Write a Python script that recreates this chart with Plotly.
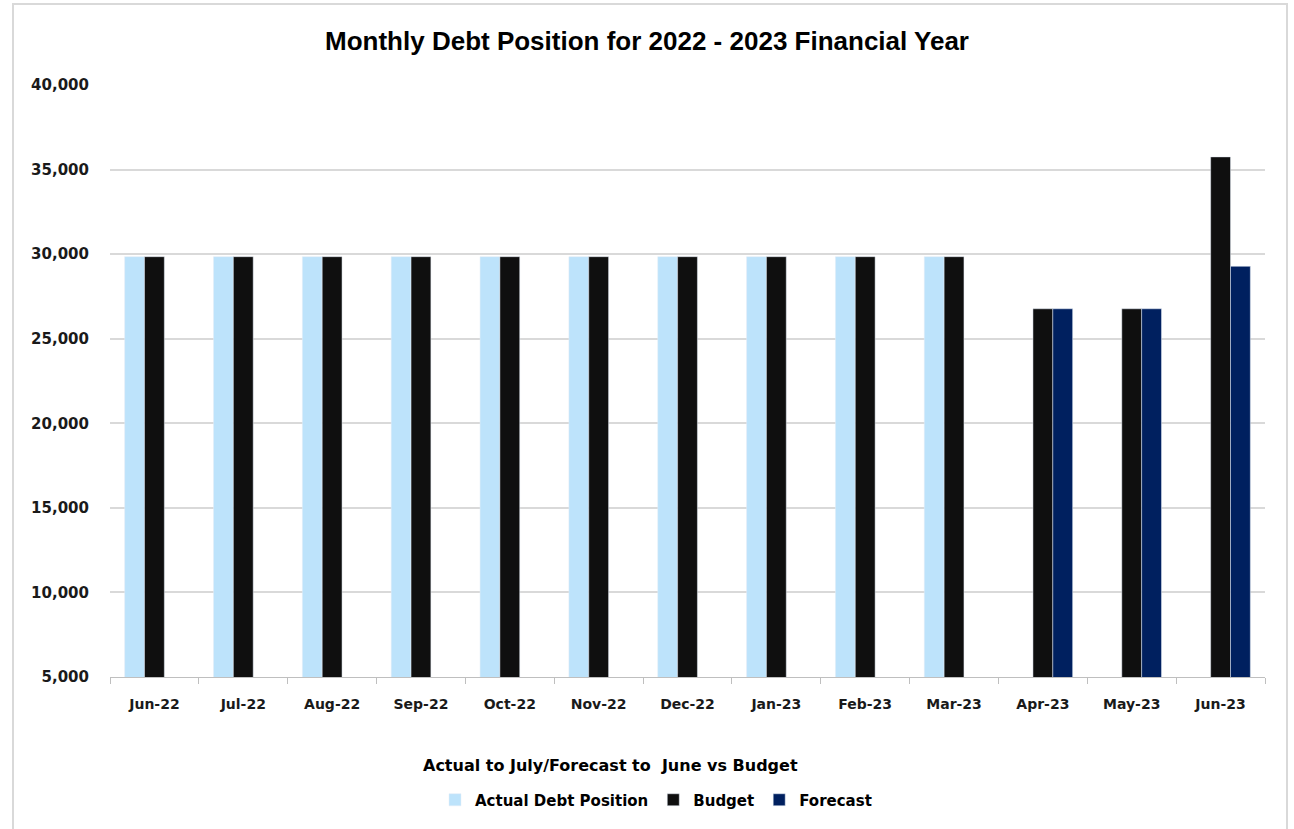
import plotly.graph_objects as go

months = ["Jun-22", "Jul-22", "Aug-22", "Sep-22", "Oct-22", "Nov-22", "Dec-22",
          "Jan-23", "Feb-23", "Mar-23", "Apr-23", "May-23", "Jun-23"]
actual = [29850, 29850, 29850, 29850, 29850, 29850, 29850, 29850, 29850, 29850, None, None, None]
budget = [29850, 29850, 29850, 29850, 29850, 29850, 29850, 29850, 29850, 29850, 26770, 26770, 35750]
forecast = [None, None, None, None, None, None, None, None, None, None, 26770, 26770, 29280]

W, H = 1294, 829
ML, MR, MT, MB = 110, 29, 85, 152
PW, PH = W - ML - MR, H - MT - MB

font_main = "DejaVu Sans"

fig = go.Figure()
fig.add_bar(name="Actual Debt Position", x=months, y=actual, marker_color="#BDE3FB")
fig.add_bar(name="Budget", x=months, y=budget, marker_color="#0F0F0F")
fig.add_bar(name="Forecast", x=months, y=forecast, marker_color="#00205F")

def px_to_paper_x(px):
    return (px - ML) / PW

def px_to_paper_y(py):
    return (H - MB - py) / PH

# light frame around the whole chart
fig.add_shape(type="rect", xref="paper", yref="paper",
              x0=px_to_paper_x(13), x1=px_to_paper_x(1287),
              y0=px_to_paper_y(840), y1=px_to_paper_y(4),
              line=dict(color="#D9D9D9", width=2), fillcolor="rgba(0,0,0,0)", layer="below")

# category-axis caption
fig.add_annotation(text="Actual to July/Forecast to  June vs Budget",
                   xref="paper", yref="paper",
                   x=px_to_paper_x(610), y=px_to_paper_y(765),
                   xanchor="center", yanchor="middle", showarrow=False,
                   font=dict(family=font_main, size=16, color="#000000", weight="bold"))

fig.update_layout(
    width=W, height=H,
    margin=dict(l=ML, r=MR, t=MT, b=MB),
    paper_bgcolor="white", plot_bgcolor="white",
    barmode="group", bargap=0.33, bargroupgap=0,
    title=dict(text="Monthly Debt Position for 2022 - 2023 Financial Year",
               x=0.5, xanchor="center", y=1 - 41 / H, yanchor="middle",
               font=dict(family="Liberation Sans", size=26, color="#000000", weight="bold")),
    font=dict(family=font_main, size=12, color="#1a1a1a"),
    showlegend=True,
    legend=dict(orientation="h", x=px_to_paper_x(656), xanchor="center",
                y=px_to_paper_y(800), yanchor="middle",
                font=dict(family=font_main, size=15, color="#000000", weight="bold"),
                itemwidth=30, traceorder="normal"),
    xaxis=dict(
        showgrid=False, showline=True, linecolor="#BFBFBF", linewidth=1,
        ticks="outside", tickson="boundaries", ticklen=6, tickcolor="#BFBFBF",
        ticklabelstandoff=14,
        tickfont=dict(family=font_main, size=14, color="#1a1a1a", weight="bold"),
    ),
    yaxis=dict(
        range=[5000, 40000], dtick=5000, tick0=5000, tickformat=",",
        showgrid=True, gridcolor="#D9D9D9", gridwidth=1.5,
        showline=False, zeroline=False, ticks="",
        ticklabelstandoff=20,
        tickfont=dict(family=font_main, size=15, color="#1a1a1a", weight="bold"),
    ),
)

fig.write_html("out.html")
